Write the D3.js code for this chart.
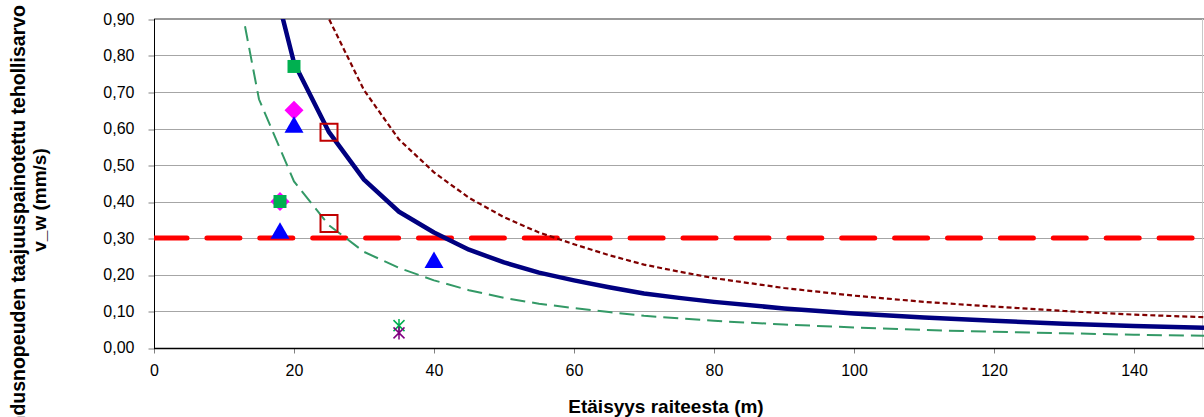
<!DOCTYPE html>
<html>
<head>
<meta charset="utf-8">
<script src="https://cdn.jsdelivr.net/npm/d3@7"></script>
<style>
  body { margin: 0; background: #fff; }
  svg { display: block; font-family: Arial, "Liberation Sans", sans-serif; }
</style>
</head>
<body>
<div id="chart"></div>
<script>
'use strict';

// tick labels
const xTicks = [0, 20, 40, 60, 80, 100, 120, 140];
const yTicks = [0, 0.1, 0.2, 0.3, 0.4, 0.5, 0.6, 0.7, 0.8, 0.9];

// curves (distance m, v_w mm/s)
const navyDist  = [15, 20, 25, 30, 35, 40, 45, 50, 55, 60, 65, 70, 75, 80, 90, 100, 110, 120, 130, 140, 150];
const navyVal   = [1.16, 0.78, 0.59, 0.46, 0.372, 0.315, 0.268, 0.233, 0.205, 0.184, 0.165, 0.148, 0.136, 0.125, 0.107, 0.093, 0.082, 0.073, 0.065, 0.059, 0.054];

const upperDist = [20, 25, 30, 35, 40, 45, 50, 55, 60, 65, 70, 75, 80, 90, 100, 110, 120, 130, 140, 150];
const upperVal  = [1.19, 0.90, 0.705, 0.57, 0.48, 0.41, 0.357, 0.315, 0.283, 0.253, 0.227, 0.208, 0.19, 0.163, 0.142, 0.125, 0.112, 0.100, 0.090, 0.083];

const lowerDist = [13, 15, 20, 25, 30, 35, 40, 45, 50, 55, 60, 65, 70, 75, 80, 90, 100, 110, 120, 130, 140, 150];
const lowerVal  = [0.88, 0.68, 0.455, 0.335, 0.262, 0.218, 0.184, 0.157, 0.136, 0.12, 0.108, 0.097, 0.087, 0.08, 0.073, 0.063, 0.055, 0.048, 0.043, 0.039, 0.035, 0.032];

// limit value line
const limitDist = [0, 150];
const limitVal  = [0.30, 0.30];

// measured points
const diamondDist  = [20, 18];
const diamondVal   = [0.65, 0.40];
const squareDist   = [20, 18];
const squareVal    = [0.77, 0.40];
const triangleDist = [20, 18, 40];
const triangleVal  = [0.61, 0.32, 0.24];
const openSqDist   = [25, 25];
const openSqVal    = [0.59, 0.34];
const starDist     = [35];
const starVal      = [0.06];
const crossDist    = [35];
const crossVal     = [0.04];

const W = 1204, H = 417;
const margin = {left: 154, top: 19, right: 0, bottom: 69};

const svg = d3.select('#chart').append('svg').attr('width', W).attr('height', H);

const x = d3.scaleLinear().domain([0, 150]).range([margin.left, margin.left + 1050]);
const y = d3.scaleLinear().domain([0, 0.9]).range([H - margin.bottom - 0.5, margin.top]);

const fmt = v => d3.format('.2f')(v).replace('.', ',');
const zip = (a, b) => a.map((d, i) => ({x: d, y: b[i]}));

svg.append('defs').append('clipPath').attr('id', 'plotclip')
  .append('rect').attr('x', x(0)).attr('y', y(0.9)).attr('width', x(150) - x(0)).attr('height', y(0) - y(0.9));

//gridlines
svg.append('g').selectAll('line').data(yTicks.filter(d => d > 0)).join('line')
  .attr('x1', x(0)).attr('x2', x(150))
  .attr('y1', d => Math.round(y(d)) + 0.5).attr('y2', d => Math.round(y(d)) + 0.5)
  .attr('stroke', '#a6a6a6').attr('stroke-width', 1);

svg.append('line').attr('x1', x(0)).attr('x2', x(150))
  .attr('y1', Math.round(y(0.9))).attr('y2', Math.round(y(0.9)))
  .attr('stroke', '#999').attr('stroke-width', 2);
svg.append('line').attr('x1', W - 1.5).attr('x2', W - 1.5)
  .attr('y1', y(0.9)).attr('y2', y(0))
  .attr('stroke', '#c8c8c8').attr('stroke-width', 1);

//axes
const yAxis = d3.axisLeft(y).tickValues(yTicks).tickFormat(fmt).tickSize(6).tickPadding(14);
const gy = svg.append('g').attr('transform', `translate(${Math.round(x(0)) + 0.5},0)`).call(yAxis);
const xAxis = d3.axisBottom(x).tickValues(xTicks).tickFormat(d3.format('d')).tickSize(5).tickPadding(11);
const gx = svg.append('g').attr('transform', `translate(0,${Math.round(y(0)) + 0.5})`).call(xAxis);
[gx, gy].forEach(g => {
  g.select('.domain').remove();
  g.selectAll('.tick line').attr('stroke', '#808080');
  g.selectAll('.tick text').attr('fill', '#000').style('font-size', '16px').style('font-family', 'Arial, "Liberation Sans", sans-serif');
});
gy.selectAll('.tick line').attr('transform', d => `translate(0,${Math.round(y(d)) + 0.5 - y(d)})`);

svg.append('line').attr('x1', Math.round(x(0)) + 0.5).attr('x2', Math.round(x(0)) + 0.5)
  .attr('y1', y(0.9)).attr('y2', Math.round(y(0)) + 1).attr('stroke', '#000');
svg.append('line').attr('x1', x(0)).attr('x2', x(150))
  .attr('y1', Math.round(y(0)) + 0.5).attr('y2', Math.round(y(0)) + 0.5).attr('stroke', '#000').attr('stroke-width', 1.5);

//curves
const line = d3.line().x(d => x(d.x)).y(d => y(d.y));
const plot = svg.append('g').attr('clip-path', 'url(#plotclip)');

plot.append('path').attr('d', line(zip(limitDist, limitVal)))
  .attr('fill', 'none').attr('stroke', '#ff0000').attr('stroke-width', 5)
  .attr('stroke-dasharray', '33,19.9').attr('stroke-linecap', 'round');

plot.append('path').attr('d', line(zip(upperDist, upperVal)))
  .attr('fill', 'none').attr('stroke', '#800000').attr('stroke-width', 2.2)
  .attr('stroke-dasharray', '5,3');

plot.append('path').attr('d', line(zip(lowerDist, lowerVal)))
  .attr('fill', 'none').attr('stroke', '#339966').attr('stroke-width', 2)
  .attr('stroke-dasharray', '15,7');

plot.append('path').attr('d', line(zip(navyDist, navyVal)))
  .attr('fill', 'none').attr('stroke', '#000080').attr('stroke-width', 4.5)
  .attr('stroke-linejoin', 'round');

//markers
const marks = svg.append('g');
function drawMarks(dist, vals, path, attrs) {
  const s = marks.append('g').selectAll('path').data(zip(dist, vals)).join('path')
    .attr('transform', d => `translate(${x(d.x)},${y(d.y)})`)
    .attr('d', path);
  Object.entries(attrs).forEach(([k, v]) => s.attr(k, v));
}
drawMarks(diamondDist, diamondVal, 'M0,-9.5L9.5,0L0,9.5L-9.5,0Z', {fill: '#ff00ff'});
drawMarks(squareDist, squareVal, 'M-6.5,-6.5H6.5V6.5H-6.5Z', {fill: '#00b050'});
drawMarks(triangleDist, triangleVal, 'M0,-8.5L9.5,8L-9.5,8Z', {fill: '#0000ff'});
drawMarks(openSqDist, openSqVal, 'M-8.5,-8.5H8.5V8.5H-8.5Z', {fill: 'none', stroke: '#c00000', 'stroke-width': 2});
drawMarks(starDist, starVal, 'M-5.5,-5.5L5.5,5.5M5.5,-5.5L-5.5,5.5M0,-6.5V6.5', {fill: 'none', stroke: '#00b050', 'stroke-width': 1.5});
drawMarks(crossDist, crossVal, 'M-5.5,-5.5L5.5,5.5M5.5,-5.5L-5.5,5.5M0,-6.5V6.5', {fill: 'none', stroke: '#800080', 'stroke-width': 1.5});

//axis titles
svg.append('text').attr('x', 666).attr('y', 412.5).attr('text-anchor', 'middle')
  .style('font-size', '19px').style('font-weight', 'bold')
  .text('Etäisyys raiteesta (m)');

svg.append('text').attr('transform', 'translate(25,5) rotate(-90)').attr('text-anchor', 'end')
  .style('font-size', '19.5px').style('font-weight', 'bold')
  .text('Heilahdusnopeuden taajuuspainotettu tehollisarvo');
svg.append('text').attr('transform', 'translate(46,200) rotate(-90)').attr('text-anchor', 'middle')
  .style('font-size', '19px').style('font-weight', 'bold')
  .text('v_w (mm/s)');
</script>
</body>
</html>
